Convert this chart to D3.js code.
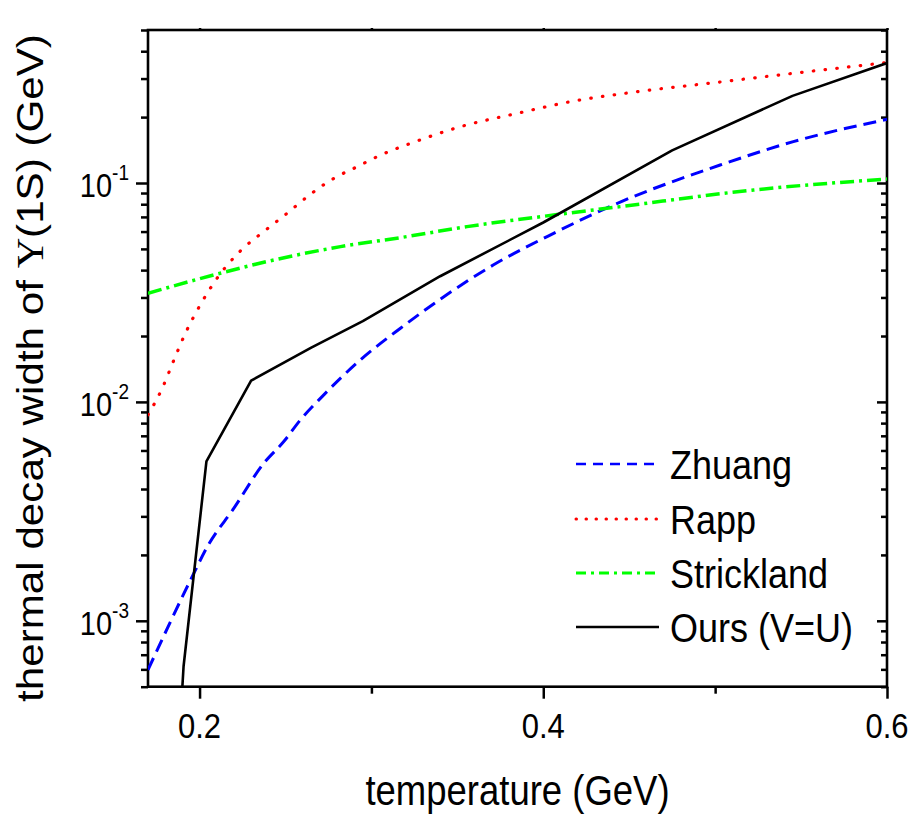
<!DOCTYPE html>
<html>
<head>
<meta charset="utf-8">
<script src="https://cdn.jsdelivr.net/npm/d3@7"></script>
<style>
  html, body { margin: 0; padding: 0; background: #fff; }
  svg { display: block; }
  text { font-family: "Liberation Sans", Arial, sans-serif; fill: #000; }
</style>
</head>
<body>
<svg id="chart" width="912" height="816"></svg>
<script>
// ---------------- data ----------------
const xTickValues = [0.2, 0.4, 0.6];
const xTickLabels = ["0.2", "0.4", "0.6"];
const xMinorTicks = [0.3, 0.5];
const yTickValues = [1e-3, 1e-2, 1e-1];
const yTickExponents = ["-3", "-2", "-1"];

const seriesNames = ["Zhuang", "Rapp", "Strickland", "Ours (V=U)"];

const zhuangT = [0.170, 0.1967, 0.2045, 0.220, 0.2374, 0.249, 0.2587, 0.2713, 0.2936, 0.3169, 0.3711, 0.406, 0.4409, 0.5029, 0.5455, 0.600];
const zhuangW = [5.97e-4, 1.65e-3, 2.18e-3, 3.27e-3, 5.25e-3, 6.59e-3, 8.28e-3, 0.01057, 0.01556, 0.02171, 0.0423, 0.0589, 0.0794, 0.1208, 0.1545, 0.1954];

const rappT = [0.170, 0.1783, 0.1851, 0.1919, 0.2006, 0.2106, 0.2238, 0.2374, 0.251, 0.2645, 0.2781, 0.2917, 0.3052, 0.3246, 0.3517, 0.3847, 0.4176, 0.452, 0.499, 0.5455, 0.600];
const rappW = [8.73e-3, 0.01155, 0.01556, 0.0207, 0.0279, 0.0371, 0.049, 0.060, 0.0728, 0.0888, 0.105, 0.1187, 0.134, 0.1535, 0.1807, 0.208, 0.2367, 0.2596, 0.287, 0.317, 0.355];

const stricklandT = [0.170, 0.2103, 0.2432, 0.282, 0.3169, 0.3556, 0.406, 0.4448, 0.5223, 0.600];
const stricklandW = [0.03135, 0.0384, 0.0445, 0.0512, 0.0563, 0.0632, 0.0714, 0.078, 0.0929, 0.1043];

const oursT = [0.1900, 0.1907, 0.204, 0.230, 0.265, 0.295, 0.340, 0.400, 0.475, 0.545, 0.600];
const oursW = [5.0e-4, 6.2e-4, 5.35e-3, 0.0125, 0.0177, 0.0234, 0.0375, 0.066, 0.141, 0.250, 0.353];

// ---------------- layout ----------------
const svg = d3.select("#chart");
const X0 = 148, X1 = 887, Y0 = 30, Y1 = 686.7;
const K = 1.14; // vertical stretch of the lettering

const x = d3.scaleLinear().domain([0.17, 0.6]).range([X0, X1]);
const y = d3.scaleLog().domain([5e-4, 0.5]).range([Y1, Y0]);

svg.append("defs").append("clipPath").attr("id", "plotclip")
  .append("rect").attr("x", X0).attr("y", Y0).attr("width", X1 - X0).attr("height", Y1 - Y0);

// minor log ticks
const yMinor = [];
[-4, -3, -2, -1].forEach(e => {
  for (let m = 2; m <= 9; m++) {
    const v = m * Math.pow(10, e);
    if (v >= 5e-4 - 1e-12 && v <= 0.5 + 1e-12) yMinor.push(v);
  }
});

// left axis (ticks outward)
svg.append("g").attr("transform", `translate(${X0},0)`)
  .call(d3.axisLeft(y).tickValues(yTickValues).tickSize(12).tickFormat(""))
  .call(g => g.select(".domain").remove());
svg.append("g").attr("transform", `translate(${X0},0)`)
  .call(d3.axisLeft(y).tickValues(yMinor).tickSize(7).tickFormat(""))
  .call(g => g.select(".domain").remove());
// right axis (ticks inward)
svg.append("g").attr("transform", `translate(${X1},0)`)
  .call(d3.axisRight(y).tickValues(yTickValues).tickSize(-10).tickFormat(""))
  .call(g => g.select(".domain").remove());
svg.append("g").attr("transform", `translate(${X1},0)`)
  .call(d3.axisRight(y).tickValues(yMinor).tickSize(-6).tickFormat(""))
  .call(g => g.select(".domain").remove());
// bottom axis (ticks outward)
svg.append("g").attr("transform", `translate(0,${Y1})`)
  .call(d3.axisBottom(x).tickValues(xTickValues).tickSize(12).tickFormat(""))
  .call(g => g.select(".domain").remove());
svg.append("g").attr("transform", `translate(0,${Y1})`)
  .call(d3.axisBottom(x).tickValues(xMinorTicks).tickSize(7).tickFormat(""))
  .call(g => g.select(".domain").remove());
// top axis (tiny ticks)
svg.append("g").attr("transform", `translate(0,${Y0})`)
  .call(d3.axisTop(x).tickValues(xTickValues.concat(xMinorTicks)).tickSize(2).tickFormat(""))
  .call(g => g.select(".domain").remove());

svg.selectAll(".tick line").attr("stroke", "#000").attr("stroke-width", 2.5);

// frame
svg.append("rect").attr("x", X0).attr("y", Y0).attr("width", X1 - X0).attr("height", Y1 - Y0)
  .attr("fill", "none").attr("stroke", "#000").attr("stroke-width", 2.6);

// x tick labels
xTickValues.forEach((v, i) => {
  svg.append("text")
    .attr("transform", `translate(${x(v)},738) scale(1,${K})`)
    .attr("text-anchor", "middle").attr("font-size", 31)
    .text(xTickLabels[i]);
});

// y tick labels 10^n
yTickValues.forEach((v, i) => {
  const t = svg.append("text")
    .attr("transform", `translate(129,${y(v) + 14}) scale(1,${K})`)
    .attr("text-anchor", "end").attr("font-size", 29);
  t.append("tspan").text("10");
  t.append("tspan").attr("font-size", 19).attr("dy", -15).text(yTickExponents[i]);
});

// axis titles
svg.append("text")
  .attr("transform", `translate(${(X0 + X1) / 2},805) scale(1,${K})`)
  .attr("text-anchor", "middle").attr("font-size", 36.5)
  .text("temperature (GeV)");

const yt = svg.append("text")
  .attr("transform", `translate(43,368) scale(1,${K}) rotate(-90)`)
  .attr("text-anchor", "middle").attr("font-size", 37);
yt.append("tspan").text("thermal decay width of ");
yt.append("tspan").attr("font-family", "'Liberation Serif', 'DejaVu Serif', serif").text("\u03A5");
yt.append("tspan").text("(1S) (GeV)");

// ---------------- curves ----------------
const styles = [
  { name: seriesNames[0], T: zhuangT, W: zhuangW, color: "#0000ff", dash: "13,7", legDash: "10,7", width: 3, legWidth: 2.6, cap: "butt", curve: d3.curveMonotoneX },
  { name: seriesNames[1], T: rappT, W: rappW, color: "#ff0000", dash: "0.5,11.3", legDash: "0.5,9.5", width: 3.2, legWidth: 3, cap: "round", curve: d3.curveMonotoneX },
  { name: seriesNames[2], T: stricklandT, W: stricklandW, color: "#00ff00", dash: "14,5,3,5", legDash: "10,5,3,5", width: 3.5, legWidth: 3, cap: "butt", curve: d3.curveMonotoneX },
  { name: seriesNames[3], T: oursT, W: oursW, color: "#000000", dash: null, legDash: null, width: 2.6, legWidth: 2.4, cap: "butt", curve: d3.curveLinear }
];

const plot = svg.append("g").attr("clip-path", "url(#plotclip)");
styles.forEach(s => {
  const pts = s.T.map((t, i) => [t, s.W[i]]);
  const line = d3.line().x(d => x(d[0])).y(d => y(d[1])).curve(s.curve);
  plot.append("path").attr("d", line(pts))
    .attr("fill", "none").attr("stroke", s.color).attr("stroke-width", s.width)
    .attr("stroke-linecap", s.cap).attr("stroke-linejoin", "round")
    .attr("stroke-dasharray", s.dash);
});

// ---------------- legend ----------------
const legY = [464, 519, 573, 627];
styles.forEach((s, i) => {
  svg.append("line").attr("x1", 576).attr("x2", 659).attr("y1", legY[i]).attr("y2", legY[i])
    .attr("stroke", s.color).attr("stroke-width", s.legWidth)
    .attr("stroke-linecap", s.cap)
    .attr("stroke-dasharray", s.legDash);
  svg.append("text")
    .attr("transform", `translate(670,${legY[i] + 15}) scale(1,${K})`)
    .attr("font-size", 36)
    .text(s.name);
});
</script>
</body>
</html>
